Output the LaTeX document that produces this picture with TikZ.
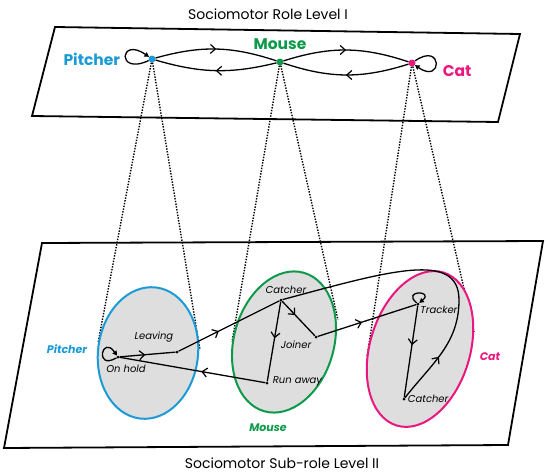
\documentclass[tikz,border=0pt]{standalone}
\usepackage{fontspec}
\setmainfont{Poppins}
\usepackage{tikz}
\usetikzlibrary{positioning,shapes.geometric,arrows.meta,decorations.markings}
\definecolor{pitcherblue}{HTML}{1B9AD6}
\definecolor{mousegreen}{HTML}{0C9A4A}
\definecolor{catpink}{HTML}{E9177F}
\definecolor{zonegray}{HTML}{DEDEDE}
\tikzstyle{plane} = [draw, line width=1.8pt, line join=miter]
\tikzstyle{role} = [circle, fill, minimum size=7pt, inner sep=0pt]
\tikzstyle{subrole} = [circle, fill=black, minimum size=3pt, inner sep=0pt]
\tikzstyle{zone} = [ellipse, draw, line width=2pt, fill=zonegray, inner sep=0pt]
\tikzstyle{leveltitle} = [font=\fontsize{14}{14}\selectfont, inner sep=1pt]
\tikzstyle{rolename} = [font=\bfseries\fontsize{15.5}{15.5}\selectfont, inner sep=1pt]
\tikzstyle{zonename} = [font=\bfseries\itshape\fontsize{11}{11}\selectfont, inner sep=1pt]
\tikzstyle{subname} = [font=\itshape\fontsize{10}{10}\selectfont, inner sep=1pt]
\tikzstyle{link} = [line width=1.3pt]
\tikzstyle{projection} = [line width=1.4pt, dash pattern=on 1.4pt off 1.4pt]
\tikzset{midarrow/.style={postaction={decorate}, decoration={markings,
    mark=at position #1 with {\arrow[line width=1.2pt]{Straight Barb[length=5pt,width=9pt]}}}}}
\tikzset{loophead/.style={-{Triangle[length=4.5pt,width=5pt]}}}

\begin{document}
\begin{tikzpicture}[x=1pt, y=-1pt]
    \useasboundingbox (0,0) rectangle (550,474);
    % We start by drawing the two levels
    \draw [plane] (55,27) -- (520,34) -- (498,122) -- (32,116) -- cycle;
    \draw [plane] (42,243) -- (543,241) -- (508,445) -- (4,448) -- cycle;
    \node [leveltitle] (level1) at (268,14) {Sociomotor Role Level I};
    \node [leveltitle] (level2) at (282,463) {Sociomotor Sub-role Level II};
    % Roles of level I
    \node [role, pitcherblue] (pitcher) at (152,59) {};
    \node [role, mousegreen] (mouse) at (280,62) {};
    \node [role, catpink] (cat) at (412,63) {};
    \node [rolename, text=pitcherblue, left=27pt of pitcher] (pitchername) {Pitcher};
    \node [rolename, text=mousegreen, above=7pt of mouse] (mousename) {Mouse};
    \node [rolename, text=catpink, right=26pt of cat, yshift=-8pt] (catname) {Cat};
    % The projections end on the sub-role ellipses
    \coordinate (pitcherleft) at (98,343);
    \coordinate (pitcherright) at (200,350);
    \coordinate (mouseleft) at (232,342);
    \coordinate (mouseright) at (338,320);
    \coordinate (catleft) at (367,357);
    \coordinate (catright) at (474,332);
    \draw [projection] (pitcher) -- (pitcherleft);
    \draw [projection] (pitcher) -- (pitcherright);
    \draw [projection] (mouse) -- (mouseleft);
    \draw [projection] (mouse) -- (mouseright);
    \draw [projection] (cat) -- (catleft);
    \draw [projection] (cat) -- (catright);
    % Sub-roles of level II
    \node [zone, draw=pitcherblue, minimum width=100pt, minimum height=132pt, rotate=-7] (pitcherzone) at (148,353) {};
    \node [zone, draw=mousegreen, minimum width=100pt, minimum height=144pt, rotate=-16] (mousezone) at (284,342) {};
    \node [zone, draw=catpink, minimum width=100pt, minimum height=160pt, rotate=-17] (catzone) at (420,349) {};
    \node [zonename, text=pitcherblue] (pitcherzonename) at (67,349) {Pitcher};
    \node [zonename, text=mousegreen] (mousezonename) at (268,428) {Mouse};
    \node [zonename, text=catpink] (catzonename) at (490,357) {Cat};
    \node [subrole] (onhold) at (118,357) {};
    \node [subrole] (leaving) at (177,352) {};
    \node [subrole] (mousecatcher) at (281,300) {};
    \node [subrole] (joiner) at (316,337) {};
    \node [subrole] (runaway) at (267,383) {};
    \node [subrole] (tracker) at (418,304) {};
    \node [subrole] (catcatcher) at (404,399) {};
    \coordinate (rim) at (459,300);
    \node [subname, below=5pt of onhold, xshift=8pt] (onholdtext) {On hold};
    \node [subname, above=7pt of leaving, xshift=-23pt] (leavingtext) {Leaving};
    \node [subname, above=4pt of mousecatcher, xshift=5pt] (mousecatchertext) {Catcher};
    \node [subname, below=1pt of joiner, xshift=-20pt] (joinertext) {Joiner};
    \node [subname, right=3pt of runaway, yshift=2pt] (runawaytext) {Run away};
    \node [subname, below right=0pt and 0pt of tracker] (trackertext) {Tracker};
    \node [subname, right=1pt of catcatcher] (catcatchertext) {Catcher};
    % Once the nodes are placed, we connect them
    \draw [link, midarrow=0.5] (pitcher) to[bend left=17] (mouse);
    \draw [link, midarrow=0.5] (mouse) to[bend left=15] (pitcher);
    \draw [link, midarrow=0.5] (mouse) to[bend left=18] (cat);
    \draw [link, midarrow=0.5] (cat) to[bend left=18] (mouse);
    \draw [link, loophead] (pitcher) to[out=-155, in=145, min distance=36pt] (pitcher);
    \draw [link, loophead] (cat) to[out=35, in=-35, min distance=34pt] (cat);
    \draw [link, midarrow=0.46] (onhold) -- (leaving);
    \draw [link, midarrow=0.4] (leaving) -- (mousecatcher);
    \draw [link, midarrow=0.46] (mousecatcher) -- (runaway);
    \draw [link, midarrow=0.4] (mousecatcher) -- (joiner);
    \draw [link, midarrow=0.45] (joiner) -- (tracker);
    \draw [link, midarrow=0.44] (runaway) -- (onhold);
    \draw [link, midarrow=0.43] (tracker) -- (catcatcher);
    \draw [link, midarrow=0.17] (catcatcher) to[out=52, in=-90] (rim)
        to[out=90, in=15, out distance=50pt, in distance=110pt] (mousecatcher);
    \draw [link, loophead] (onhold) to[out=-150, in=125, min distance=26pt] (onhold);
    \draw [link, loophead] (tracker) to[out=140, in=40, min distance=20pt] (tracker);
\end{tikzpicture}
\end{document}
